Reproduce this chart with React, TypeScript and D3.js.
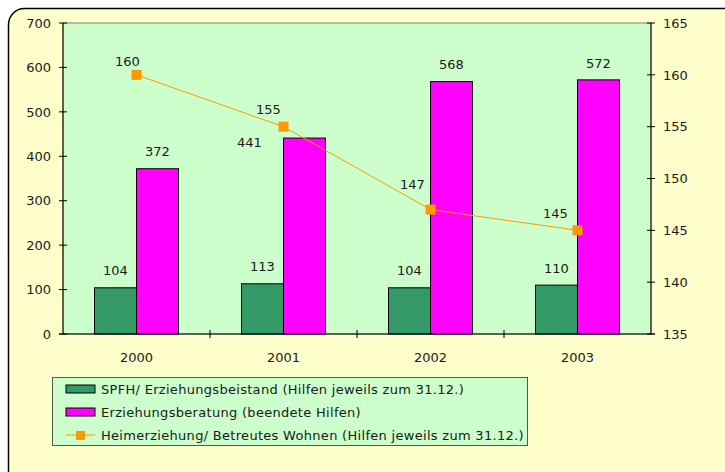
import React from "react";
import * as d3 from "d3";

const years = ["2000", "2001", "2002", "2003"];
const spfh = [104, 113, 104, 110];
const beratung = [372, 441, 568, 572];
const heim = [160, 155, 147, 145];
const leftTicks = [0, 100, 200, 300, 400, 500, 600, 700];
const rightTicks = [135, 140, 145, 150, 155, 160, 165];
const seriesNames = [
  "SPFH/ Erziehungsbeistand (Hilfen jeweils zum 31.12.)",
  "Erziehungsberatung (beendete Hilfen)",
  "Heimerziehung/ Betreutes Wohnen (Hilfen jeweils zum 31.12.)",
];

// label placement tweaks (style, not data)
const beratungLabelShift = [[0, 0], [-55, 21], [0, 0], [0, 0]];
const heimLabelShift = [[-9, -14], [-15, -17], [-18, -25], [-22, -17]];

const W = 725;
const H = 472;
const plot = { left: 63, right: 651, top: 23, bottom: 334 };
const FONT = "'DejaVu Sans', Verdana, sans-serif";
const TXT = "#1a1a1a";
const GREEN = "#339966";
const MAGENTA = "#FF00FF";
const ORANGE = "#FF9900";

export default function App() {
  const x = d3.scaleBand<string>().domain(years).range([plot.left, plot.right]).padding(0);
  const yL = d3.scaleLinear().domain([0, 700]).range([plot.bottom, plot.top]);
  const yR = d3.scaleLinear().domain([135, 165]).range([plot.bottom, plot.top]);
  const bw = x.bandwidth() / 3.5;
  const cx = (y: string) => (x(y) as number) + x.bandwidth() / 2;
  const line = d3
    .line<number>()
    .x((_, i) => cx(years[i]))
    .y((d) => yR(d));

  const fs = 13;
  return (
    <svg
      width={W}
      height={H}
      style={{ position: "absolute", left: 0, top: 0, background: "#fff" }}
      fontFamily={FONT}
    >
      <rect x={8.5} y={8.5} width={760} height={480} rx={16} fill="#FFFFCC" stroke="#000" strokeWidth={1.5} />
      <rect x={plot.left} y={plot.top} width={plot.right - plot.left} height={plot.bottom - plot.top} fill="#CCFFCC" stroke="#808080" strokeWidth={1} />

      {/* bars */}
      {years.map((yr, i) => (
        <g key={yr}>
          <rect x={cx(yr) - bw} y={yL(spfh[i])} width={bw} height={plot.bottom - yL(spfh[i])} fill={GREEN} stroke="#000" strokeWidth={1} />
          <rect x={cx(yr)} y={yL(beratung[i])} width={bw} height={plot.bottom - yL(beratung[i])} fill={MAGENTA} stroke="#000" strokeWidth={1} />
        </g>
      ))}

      {/* axes */}
      <line x1={plot.left} x2={plot.left} y1={plot.top} y2={plot.bottom} stroke="#000" />
      <line x1={plot.right} x2={plot.right} y1={plot.top} y2={plot.bottom} stroke="#000" />
      <line x1={plot.left - 4} x2={plot.right + 4} y1={plot.bottom} y2={plot.bottom} stroke="#000" />
      {leftTicks.map((t) => (
        <g key={"l" + t}>
          <line x1={plot.left - 4} x2={plot.left + 4} y1={yL(t)} y2={yL(t)} stroke="#000" />
          <text x={51} y={yL(t)} dy="0.36em" textAnchor="end" fontSize={fs} fill={TXT}>{t}</text>
        </g>
      ))}
      {rightTicks.map((t) => (
        <g key={"r" + t}>
          <line x1={plot.right - 4} x2={plot.right + 4} y1={yR(t)} y2={yR(t)} stroke="#000" />
          <text x={663} y={yR(t)} dy="0.36em" textAnchor="start" fontSize={fs} fill={TXT}>{t}</text>
        </g>
      ))}
      {years.map((yr, i) => (
        <g key={"x" + yr}>
          {i > 0 && <line x1={x(yr)} x2={x(yr)} y1={plot.bottom - 4} y2={plot.bottom + 4} stroke="#000" />}
          <text x={cx(yr)} y={357} dy="0.36em" textAnchor="middle" fontSize={fs} fill={TXT}>{yr}</text>
        </g>
      ))}

      {/* bar labels */}
      {years.map((yr, i) => (
        <g key={"bl" + yr}>
          <text x={cx(yr) - bw / 2} y={yL(spfh[i]) - 17} dy="0.36em" textAnchor="middle" fontSize={fs} fill={TXT}>{spfh[i]}</text>
          <text x={cx(yr) + bw / 2 + beratungLabelShift[i][0]} y={yL(beratung[i]) - 17 + beratungLabelShift[i][1]} dy="0.36em" textAnchor="middle" fontSize={fs} fill={TXT}>{beratung[i]}</text>
        </g>
      ))}

      {/* line */}
      <path d={line(heim) as string} fill="none" stroke={ORANGE} strokeWidth={1} />
      {heim.map((v, i) => (
        <g key={"h" + i}>
          <rect x={cx(years[i]) - 5} y={yR(v) - 5} width={10} height={10} fill={ORANGE} />
          <text x={cx(years[i]) + heimLabelShift[i][0]} y={yR(v) + heimLabelShift[i][1]} dy="0.36em" textAnchor="middle" fontSize={fs} fill={TXT}>{v}</text>
        </g>
      ))}

      {/* legend */}
      <rect x={52.5} y={377.5} width={475} height={68} fill="#CCFFCC" stroke="#555" strokeWidth={1} />
      {seriesNames.map((name, i) => {
        const ry = 389 + i * 23;
        return (
          <g key={name}>
            {i === 0 && <rect x={66} y={ry - 4} width={29} height={8} fill={GREEN} stroke="#000" />}
            {i === 1 && <rect x={66} y={ry - 4} width={29} height={8} fill={MAGENTA} stroke="#000" />}
            {i === 2 && (
              <g>
                <line x1={66} x2={95} y1={ry} y2={ry} stroke={ORANGE} strokeWidth={1} />
                <rect x={76} y={ry - 4} width={9} height={9} fill={ORANGE} />
              </g>
            )}
            <text x={101} y={ry} dy="0.36em" fontSize={fs} letterSpacing={0.3} fill={TXT}>{name}</text>
          </g>
        );
      })}
    </svg>
  );
}
